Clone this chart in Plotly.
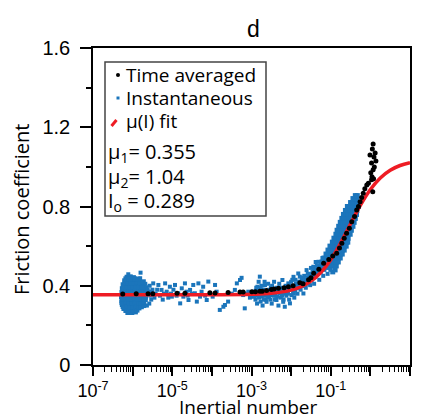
import plotly.graph_objects as go

# ---------------- data ----------------
# x values are given as log10(Inertial number)
blob_pts = [
    (-6.12, 0.265), (-6.02, 0.265), (-5.93, 0.268),
    (-6.22, 0.285), (-6.15, 0.283), (-6.07, 0.287), (-5.99, 0.284), (-5.91, 0.286), (-5.84, 0.288),
    (-6.26, 0.305), (-6.19, 0.303), (-6.11, 0.306), (-6.04, 0.304), (-5.96, 0.307), (-5.88, 0.305), (-5.81, 0.302),
    (-6.27, 0.325), (-6.20, 0.327), (-6.13, 0.324), (-6.05, 0.326), (-5.98, 0.323), (-5.90, 0.327), (-5.83, 0.325), (-5.76, 0.322),
    (-6.28, 0.345), (-6.21, 0.343), (-6.14, 0.346), (-6.06, 0.344), (-5.99, 0.347), (-5.92, 0.345), (-5.85, 0.343), (-5.78, 0.346),
    (-6.27, 0.365), (-6.20, 0.366), (-6.12, 0.363), (-6.05, 0.365), (-5.97, 0.367), (-5.90, 0.364), (-5.82, 0.366), (-5.75, 0.363),
    (-6.26, 0.385), (-6.18, 0.386), (-6.11, 0.384), (-6.03, 0.387), (-5.95, 0.385), (-5.88, 0.383), (-5.81, 0.386), (-5.76, 0.384),
    (-6.24, 0.405), (-6.16, 0.404), (-6.09, 0.407), (-6.01, 0.405), (-5.94, 0.403), (-5.86, 0.406), (-5.79, 0.404),
    (-6.20, 0.425), (-6.13, 0.424), (-6.05, 0.426), (-5.97, 0.423), (-5.90, 0.425), (-5.83, 0.427),
    (-6.14, 0.443), (-6.06, 0.445), (-5.98, 0.441),
    (-6.17, 0.275), (-6.08, 0.275), (-5.98, 0.276), (-5.89, 0.277),
    (-6.24, 0.295), (-6.15, 0.296), (-6.07, 0.294), (-6.00, 0.295), (-5.92, 0.297), (-5.85, 0.295), (-5.78, 0.294),
    (-6.27, 0.315), (-6.16, 0.316), (-6.08, 0.314), (-6.01, 0.315), (-5.93, 0.317), (-5.85, 0.315), (-5.79, 0.313),
    (-6.25, 0.335), (-6.17, 0.336), (-6.10, 0.334), (-6.02, 0.335), (-5.95, 0.337), (-5.87, 0.335), (-5.80, 0.334),
    (-6.25, 0.355), (-6.17, 0.356), (-6.10, 0.354), (-6.02, 0.355), (-5.95, 0.357), (-5.87, 0.355), (-5.80, 0.354),
    (-6.24, 0.375), (-6.16, 0.376), (-6.08, 0.374), (-6.00, 0.375), (-5.93, 0.377), (-5.85, 0.375), (-5.78, 0.374),
    (-6.22, 0.395), (-6.14, 0.396), (-6.06, 0.394), (-5.98, 0.395), (-5.91, 0.397), (-5.84, 0.395), (-5.77, 0.394),
    (-6.19, 0.415), (-6.12, 0.416), (-6.04, 0.414), (-5.97, 0.415), (-5.89, 0.417), (-5.81, 0.415),
    (-6.17, 0.435), (-6.09, 0.436), (-6.02, 0.434), (-5.94, 0.435), (-5.87, 0.433),
    (-5.72, 0.30), (-5.72, 0.32), (-5.71, 0.34), (-5.72, 0.36), (-5.71, 0.38), (-5.72, 0.40),
    (-5.73, 0.42), (-5.68, 0.33), (-5.67, 0.37), (-5.66, 0.39),
]

sparse_pts = [
    (-6.11, 0.458), (-5.80, 0.466), (-5.81, 0.438), (-5.58, 0.31),
    (-5.74, 0.39), (-5.72, 0.33), (-5.68, 0.41), (-5.64, 0.30), (-5.60, 0.37), (-5.57, 0.40),
    (-5.53, 0.33), (-5.50, 0.38),
    (-5.70, 0.36), (-5.66, 0.34), (-5.62, 0.38), (-5.55, 0.35), (-5.52, 0.37), (-5.48, 0.412),
    (-5.45, 0.34), (-5.42, 0.36), (-5.38, 0.38), (-5.35, 0.404), (-5.31, 0.35), (-5.27, 0.379),
    (-5.24, 0.33), (-5.21, 0.36), (-5.18, 0.412), (-5.14, 0.370), (-5.10, 0.34), (-5.06, 0.395),
    (-5.03, 0.36), (-5.01, 0.345), (-4.97, 0.38), (-4.93, 0.404), (-4.89, 0.35), (-4.85, 0.362),
    (-4.80, 0.311), (-4.76, 0.387), (-4.72, 0.345), (-4.68, 0.412), (-4.64, 0.370), (-4.61, 0.35),
    (-4.59, 0.328), (-4.55, 0.379), (-4.51, 0.36), (-4.47, 0.404), (-4.43, 0.362), (-4.38, 0.320),
    (-4.34, 0.412), (-4.30, 0.345), (-4.26, 0.370), (-4.22, 0.395), (-4.17, 0.35), (-4.13, 0.328),
    (-4.09, 0.421), (-4.05, 0.362), (-3.98, 0.345), (-3.92, 0.404), (-3.88, 0.370), (-3.80, 0.278),
    (-3.71, 0.294), (-3.67, 0.303), (-3.59, 0.320), (-3.50, 0.36), (-3.42, 0.379), (-3.37, 0.412),
    (-3.29, 0.429), (-3.25, 0.44), (-3.21, 0.353), (-3.17, 0.286), (-3.12, 0.36), (-3.08, 0.370),
    (-3.04, 0.34), (-3.00, 0.345), (-2.95, 0.370),
]

mid_pts = [
    (-2.92, 0.36), (-2.90, 0.33), (-2.88, 0.39), (-2.86, 0.31), (-2.84, 0.35), (-2.82, 0.42),
    (-2.80, 0.37), (-2.79, 0.446), (-2.77, 0.32), (-2.75, 0.40), (-2.74, 0.345), (-2.72, 0.30),
    (-2.70, 0.38), (-2.68, 0.35), (-2.66, 0.403), (-2.64, 0.33), (-2.62, 0.319), (-2.60, 0.37),
    (-2.58, 0.41), (-2.56, 0.34), (-2.53, 0.353), (-2.51, 0.39), (-2.49, 0.31), (-2.47, 0.36),
    (-2.45, 0.378), (-2.43, 0.42), (-2.41, 0.33), (-2.39, 0.35), (-2.37, 0.328), (-2.36, 0.39),
    (-2.34, 0.37), (-2.32, 0.30), (-2.30, 0.41), (-2.28, 0.361), (-2.26, 0.34), (-2.24, 0.38),
    (-2.22, 0.429), (-2.20, 0.319), (-2.18, 0.36), (-2.16, 0.294), (-2.14, 0.40), (-2.12, 0.35),
    (-2.10, 0.37), (-2.07, 0.412), (-2.05, 0.33), (-2.03, 0.311), (-2.01, 0.39), (-1.99, 0.353),
    (-1.97, 0.43), (-1.95, 0.37), (-1.94, 0.445), (-1.92, 0.34), (-1.90, 0.378), (-1.88, 0.41),
    (-1.86, 0.387), (-1.84, 0.36), (-1.82, 0.462), (-1.80, 0.42), (-1.78, 0.446), (-1.76, 0.38),
    (-1.73, 0.429), (-1.71, 0.40), (-1.69, 0.361), (-1.67, 0.45), (-1.65, 0.42), (-1.63, 0.39),
    (-1.61, 0.479), (-1.59, 0.44), (-1.56, 0.41), (-1.54, 0.46), (-1.52, 0.403), (-1.50, 0.49),
    (-1.48, 0.43), (-1.46, 0.47), (-1.44, 0.496), (-1.42, 0.41), (-1.40, 0.445), (-1.38, 0.52),
    (-1.36, 0.48), (-1.33, 0.46), (-1.31, 0.521), (-1.29, 0.43), (-1.27, 0.50), (-1.25, 0.47),
    (-1.23, 0.479), (-1.21, 0.54), (-1.19, 0.45), (-1.17, 0.51), (-1.15, 0.538), (-1.13, 0.49),
    (-1.10, 0.547), (-1.08, 0.46), (-1.06, 0.504), (-1.04, 0.52),
    (-2.93, 0.345), (-2.89, 0.375), (-2.85, 0.395), (-2.81, 0.34), (-2.78, 0.39), (-2.73, 0.37),
    (-2.69, 0.33), (-2.67, 0.42), (-2.63, 0.36), (-2.59, 0.345), (-2.55, 0.38), (-2.52, 0.33),
    (-2.48, 0.40), (-2.44, 0.35), (-2.40, 0.38), (-2.35, 0.345), (-2.31, 0.37), (-2.27, 0.39),
    (-2.23, 0.35), (-2.19, 0.33), (-2.15, 0.38), (-2.11, 0.39), (-2.08, 0.36), (-2.04, 0.40),
    (-2.00, 0.42), (-1.96, 0.39), (-1.93, 0.36), (-1.89, 0.43), (-1.85, 0.40), (-1.81, 0.39),
    (-1.77, 0.42), (-1.74, 0.40), (-1.70, 0.44), (-1.66, 0.40), (-1.62, 0.43), (-1.58, 0.46),
    (-1.55, 0.43), (-1.51, 0.45), (-1.47, 0.45), (-1.43, 0.48), (-1.39, 0.47), (-1.35, 0.50),
    (-1.32, 0.49), (-1.28, 0.47), (-1.24, 0.51), (-1.20, 0.49), (-1.16, 0.48), (-1.12, 0.53),
    (-1.09, 0.51), (-1.05, 0.49), (-1.01, 0.48),
]

rise_pts = [
    (-1.27, 0.50), (-1.21, 0.50), (-1.15, 0.50), (-1.09, 0.50), (-1.03, 0.50), (-0.97, 0.50), (-0.91, 0.50), (-0.86, 0.50),
    (-1.22, 0.52), (-1.16, 0.52), (-1.10, 0.52), (-1.04, 0.52), (-0.98, 0.52), (-0.92, 0.52), (-0.86, 0.52), (-0.81, 0.52),
    (-1.17, 0.54), (-1.11, 0.54), (-1.05, 0.54), (-0.99, 0.54), (-0.93, 0.54), (-0.87, 0.54), (-0.81, 0.54), (-0.76, 0.54),
    (-1.12, 0.56), (-1.06, 0.56), (-1.00, 0.56), (-0.94, 0.56), (-0.88, 0.56), (-0.82, 0.56), (-0.76, 0.56), (-0.71, 0.56),
    (-1.07, 0.58), (-1.01, 0.58), (-0.95, 0.58), (-0.89, 0.58), (-0.83, 0.58), (-0.77, 0.58), (-0.71, 0.58), (-0.66, 0.58),
    (-1.02, 0.60), (-0.96, 0.60), (-0.90, 0.60), (-0.84, 0.60), (-0.78, 0.60), (-0.72, 0.60), (-0.66, 0.60), (-0.61, 0.60),
    (-0.96, 0.62), (-0.90, 0.62), (-0.84, 0.62), (-0.78, 0.62), (-0.72, 0.62), (-0.66, 0.62), (-0.60, 0.62), (-0.57, 0.62),
    (-0.92, 0.64), (-0.86, 0.64), (-0.80, 0.64), (-0.74, 0.64), (-0.68, 0.64), (-0.62, 0.64), (-0.56, 0.64),
    (-0.87, 0.66), (-0.81, 0.66), (-0.75, 0.66), (-0.69, 0.66), (-0.63, 0.66), (-0.57, 0.66), (-0.51, 0.66),
    (-0.84, 0.68), (-0.78, 0.68), (-0.72, 0.68), (-0.66, 0.68), (-0.60, 0.68), (-0.54, 0.68), (-0.48, 0.68),
    (-0.80, 0.70), (-0.74, 0.70), (-0.68, 0.70), (-0.62, 0.70), (-0.56, 0.70), (-0.50, 0.70), (-0.44, 0.70),
    (-0.76, 0.72), (-0.70, 0.72), (-0.64, 0.72), (-0.58, 0.72), (-0.52, 0.72), (-0.46, 0.72), (-0.41, 0.72),
    (-0.72, 0.74), (-0.66, 0.74), (-0.60, 0.74), (-0.54, 0.74), (-0.48, 0.74), (-0.42, 0.74), (-0.38, 0.74),
    (-0.68, 0.76), (-0.62, 0.76), (-0.56, 0.76), (-0.50, 0.76), (-0.44, 0.76), (-0.38, 0.76), (-0.35, 0.76),
    (-0.63, 0.78), (-0.57, 0.78), (-0.51, 0.78), (-0.45, 0.78), (-0.39, 0.78), (-0.34, 0.78),
    (-0.58, 0.80), (-0.52, 0.80), (-0.46, 0.80), (-0.40, 0.80), (-0.34, 0.80), (-0.30, 0.80),
    (-0.50, 0.82), (-0.44, 0.82), (-0.38, 0.82), (-0.33, 0.82),
    (-0.44, 0.84), (-0.38, 0.84), (-0.34, 0.84),
    (-0.38, 0.855), (-0.33, 0.855),
    (-0.89, 0.48), (-0.95, 0.47),
]

avg_pts = [
    (-6.25, 0.358), (-5.91, 0.36), (-5.61, 0.36), (-5.49, 0.36), (-4.88, 0.362), (-4.68, 0.362),
    (-4.05, 0.365), (-3.92, 0.364), (-3.59, 0.366), (-3.29, 0.368), (-3.21, 0.368), (-2.99, 0.37),
    (-2.90, 0.37), (-2.79, 0.372), (-2.73, 0.372), (-2.62, 0.376), (-2.50, 0.381), (-2.43, 0.384),
    (-2.32, 0.387), (-2.18, 0.39), (-2.07, 0.395), (-1.95, 0.40), (-1.78, 0.415), (-1.70, 0.41),
    (-1.56, 0.43), (-1.50, 0.44), (-1.43, 0.463), (-1.30, 0.483), (-1.18, 0.513), (-1.05, 0.533),
    (-0.95, 0.55), (-0.85, 0.564), (-0.78, 0.59), (-0.72, 0.614), (-0.66, 0.64), (-0.60, 0.665),
    (-0.53, 0.69), (-0.47, 0.723), (-0.40, 0.75), (-0.345, 0.782), (-0.30, 0.80), (-0.26, 0.824),
    (-0.22, 0.845), (-0.18, 0.867), (-0.14, 0.89), (-0.09, 0.909), (-0.05, 0.917), (0.06, 0.875),
    (0.03, 0.935), (0.01, 0.97), (0.07, 0.985), (0.03, 1.02), (0.14, 1.03), (-0.01, 1.06),
    (0.12, 1.07), (0.07, 1.115), (0.05, 1.09), (0.09, 1.05), (0.10, 1.00), (0.04, 0.95), (0.08, 0.94),
]

fit_logI = [-7, -4, -3, -2.5, -2, -1.75, -1.5, -1.25, -1, -0.75, -0.5, -0.25, 0, 0.25, 0.5, 0.75, 1]
fit_mu = [0.355, 0.355, 0.357, 0.362, 0.378, 0.395, 0.423, 0.467, 0.531, 0.616, 0.713, 0.807,
          0.886, 0.944, 0.983, 1.007, 1.021]

legend_lines = ["Time averaged", "Instantaneous", "\u03bc(I) fit"]
param_lines = ["\u03bc<sub>1</sub>= 0.355", "\u03bc<sub>2</sub>= 1.04", "I<sub>o</sub> = 0.289"]

x_tick_exp = [-7, -6, -5, -4, -3, -2, -1, 0, 1]
x_tick_text = ["10<sup>-7</sup>", "", "10<sup>-5</sup>", "", "10<sup>-3</sup>", "",
               "10<sup>-1</sup>", "", "10<sup>1</sup>"]
y_tick_vals = [0, 0.4, 0.8, 1.2, 1.6]
y_tick_text = ["0", "0.4", "0.8", "1.2", "1.6"]

# ---------------- figure ----------------
W, H = 422, 419
ML, MR, MT, MB = 93, 12, 48, 54
PW, PH = W - ML - MR, H - MT - MB


def px(xp):
    return (xp - ML) / PW


def py(yp):
    return (H - MB - yp) / PH


BLUE = "#1b75bb"
RED = "#ee1c24"
ARIAL = "Liberation Sans, Arial, sans-serif"
TEXTFONT = "Open Sans, Noto Sans, sans-serif"

dense = blob_pts + rise_pts
scattered = sparse_pts + mid_pts

fig = go.Figure()
fig.add_trace(go.Scatter(
    x=[10 ** p[0] for p in dense], y=[p[1] for p in dense], mode="markers",
    marker=dict(symbol="square", size=5, color=BLUE, line=dict(width=0)),
    showlegend=False, hoverinfo="skip"))
fig.add_trace(go.Scatter(
    x=[10 ** p[0] for p in scattered], y=[p[1] for p in scattered], mode="markers",
    marker=dict(symbol="square", size=4, color=BLUE, line=dict(width=0)),
    showlegend=False, hoverinfo="skip"))
fig.add_trace(go.Scatter(
    x=[10 ** v for v in fit_logI], y=fit_mu, mode="lines", line_shape="spline",
    line=dict(color=RED, width=3.5), showlegend=False, hoverinfo="skip"))
fig.add_trace(go.Scatter(
    x=[10 ** p[0] for p in avg_pts], y=[p[1] for p in avg_pts], mode="markers",
    marker=dict(symbol="circle", size=5, color="black", line=dict(width=0)),
    showlegend=False, hoverinfo="skip"))

minor_x = [m * 10.0 ** e for e in range(-7, 1) for m in range(2, 10)]

fig.update_layout(
    width=W, height=H, autosize=False,
    margin=dict(l=ML, r=MR, t=MT, b=MB, autoexpand=False),
    paper_bgcolor="white", plot_bgcolor="white",
    showlegend=False,
    xaxis=dict(
        type="log", range=[-7, 1], automargin=False,
        tickvals=[10.0 ** e for e in x_tick_exp], ticktext=x_tick_text,
        ticks="outside", ticklen=9, tickwidth=1.5, tickcolor="black",
        minor=dict(tickvals=minor_x, ticks="outside", ticklen=5, tickwidth=1, tickcolor="black"),
        showline=True, linecolor="black", linewidth=1.5, mirror=True,
        showgrid=False, zeroline=False,
        tickfont=dict(family=ARIAL, size=18, color="black"),
    ),
    yaxis=dict(
        range=[0, 1.6], tickvals=y_tick_vals, ticktext=y_tick_text, automargin=False,
        ticks="outside", ticklen=11, tickwidth=1.5, tickcolor="black",
        minor=dict(dtick=0.2, ticks="outside", ticklen=5, tickwidth=1.5, tickcolor="black"),
        showline=True, linecolor="black", linewidth=1.5, mirror=True,
        showgrid=False, zeroline=False, ticklabelstandoff=6,
        tickfont=dict(family=ARIAL, size=20, color="black"),
    ),
)

annotations = []
# title
annotations.append(dict(text="d", x=px(253), y=py(29), xref="paper", yref="paper",
                        showarrow=False, xanchor="center", yanchor="middle",
                        font=dict(family=ARIAL, size=23, color="black")))
# axis titles
annotations.append(dict(text="Inertial number", x=px(248), y=py(406.5), xref="paper", yref="paper",
                        showarrow=False, xanchor="center", yanchor="middle",
                        font=dict(family=TEXTFONT, size=19, color="black")))
annotations.append(dict(text="Friction coefficient", x=px(22), y=py(210), xref="paper", yref="paper",
                        showarrow=False, xanchor="center", yanchor="middle", textangle=-90,
                        font=dict(family=TEXTFONT, size=20, color="black")))
# legend texts
for txt, yy in zip(legend_lines, [75, 98, 121]):
    annotations.append(dict(text=txt, x=px(124), y=py(yy), xref="paper", yref="paper",
                            showarrow=False, xanchor="left", yanchor="middle",
                            font=dict(family=TEXTFONT, size=19, color="black")))
for txt, yy in zip(param_lines, [152, 177, 201]):
    annotations.append(dict(text=txt, x=px(106), y=py(yy), xref="paper", yref="paper",
                            showarrow=False, xanchor="left", yanchor="middle",
                            font=dict(family=TEXTFONT, size=20, color="black")))
fig.update_layout(annotations=annotations)

shapes = [
    dict(type="rect", xref="paper", yref="paper", x0=px(105), x1=px(266), y0=py(216), y1=py(62),
         line=dict(color="#444444", width=1.5), fillcolor="rgba(0,0,0,0)"),
    dict(type="circle", xref="paper", yref="paper", x0=px(116), x1=px(120), y0=py(77), y1=py(73),
         line=dict(width=0), fillcolor="black"),
    dict(type="rect", xref="paper", yref="paper", x0=px(116.5), x1=px(119.5), y0=py(99.5), y1=py(96.5),
         line=dict(width=0), fillcolor=BLUE),
    dict(type="line", xref="paper", yref="paper", x0=px(111.5), x1=px(116.5), y0=py(126), y1=py(120),
         line=dict(color=RED, width=3)),
]
fig.update_layout(shapes=shapes)

fig.write_html("out.html")
